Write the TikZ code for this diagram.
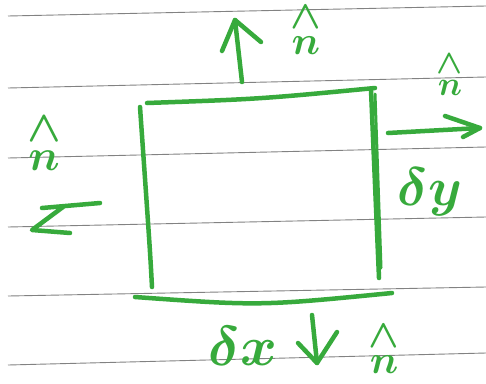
\documentclass[tikz,border=0pt]{standalone}
\definecolor{marker}{RGB}{55,170,60}
\definecolor{ruling}{RGB}{130,130,130}
\newcommand{\nhatsym}{\mathop{\kern0pt n}\limits^{\textstyle\wedge}}
\begin{document}
\begin{tikzpicture}[x=1pt,y=-1pt,
  pen/.style={draw=marker,line width=4.5pt,line cap=round,line join=round},
  paperline/.style={draw=ruling,line width=0.9pt},
  hw/.style={text=marker,inner sep=0pt,anchor=base,font=\boldmath}]
\fill[white] (0,0) rectangle (486,383);
\useasboundingbox (0,0) rectangle (486,383);
% ruled paper
\coordinate (r1a) at (8,16);  \coordinate (r1b) at (486,6);
\coordinate (r2a) at (8,88);  \coordinate (r2b) at (486,77);
\coordinate (r3a) at (8,158); \coordinate (r3b) at (486,147);
\coordinate (r4a) at (8,227); \coordinate (r4b) at (486,217);
\coordinate (r5a) at (8,296); \coordinate (r5b) at (486,287);
\coordinate (r6a) at (8,365); \coordinate (r6b) at (486,353);
\draw[paperline] (r1a) -- (r1b);
\draw[paperline] (r2a) -- (r2b);
\draw[paperline] (r3a) -- (r3b);
\draw[paperline] (r4a) -- (r4b);
\draw[paperline] (r5a) -- (r5b);
\draw[paperline] (r6a) -- (r6b);
% box
\coordinate (tl) at (147,103);
\coordinate (tm) at (260,99);
\coordinate (tr) at (375,88);
\draw[pen] (tl) .. controls (tm) .. (tr);
\coordinate (lt) at (140,107);
\coordinate (lm) at (150,250);
\coordinate (lb) at (152,287);
\draw[pen] (lt) .. controls (lm) .. (lb);
\coordinate (rt) at (371,90);
\coordinate (rb) at (379,278);
\draw[pen] (rt) -- (rb);
\coordinate (rt2) at (375,94);
\coordinate (rb2) at (381,268);
\draw[pen,line width=3pt] (rt2) -- (rb2);
\coordinate (bl) at (135,297);
\coordinate (bm) at (260,306);
\coordinate (br) at (392,293);
\draw[pen] (bl) .. controls (bm) .. (br);
% up arrow
\coordinate (ua0) at (242,82);
\coordinate (ua1) at (235,20);
\coordinate (ual) at (222,51);
\coordinate (uar) at (261,42);
\draw[pen] (ua0) -- (ua1);
\draw[pen] (ual) -- (ua1) -- (uar);
% right arrow
\coordinate (ra0) at (388,133);
\coordinate (ra1) at (480,128);
\coordinate (rau) at (445,116);
\coordinate (rad) at (463,137);
\draw[pen] (ra0) -- (ra1);
\draw[pen] (rau) -- (ra1) -- (rad);
% left arrow
\coordinate (la0) at (100,203);
\coordinate (la1) at (42,208);
\coordinate (lau) at (63,207);
\coordinate (lat) at (32,230);
\coordinate (lad) at (70,233);
\draw[pen] (la0) -- (la1);
\draw[pen] (lau) -- (lat) -- (lad);
% down arrow
\coordinate (da0) at (312,315);
\coordinate (da1) at (317,363);
\coordinate (dal) at (298,343);
\coordinate (dar) at (337,332);
\draw[pen] (da0) -- (da1);
\draw[pen] (dal) -- (da1) -- (dar);
% labels
\node[hw,scale=4.0] (ntop) at (306,54) {$\nhatsym$};
\node[hw,scale=3.4] (nright) at (450,95) {$\nhatsym$};
\node[hw,scale=4.4] (nleft) at (44,170) {$\nhatsym$};
\node[hw,scale=4.0] (nbot) at (384,373) {$\nhatsym$};
\node[hw,scale=5.4] (dy) at (430,205) {$\delta y$};
\node[hw,scale=5.6] (dx) at (243,365) {$\delta x$};
\end{tikzpicture}
\end{document}
